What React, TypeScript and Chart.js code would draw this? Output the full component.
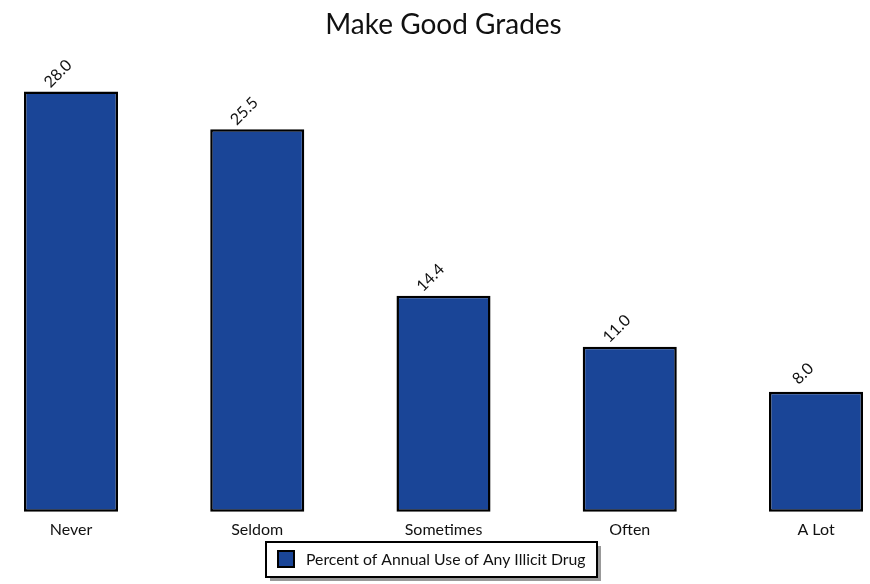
import React, { useEffect, useRef } from "react";
import { Chart, registerables } from "chart.js";

Chart.register(...registerables);

const categories = ["Never", "Seldom", "Sometimes", "Often", "A Lot"];
const values = [28.0, 25.5, 14.4, 11.0, 8.0];
const seriesLabel = "Percent of Annual Use of Any Illicit Drug";
const titleText = "Make Good Grades";

const FONT = "Lato, 'Noto Sans', sans-serif";
const BAR_COLOR = "#1a4597";

const valueLabelPlugin = {
  id: "valueLabels",
  afterDatasetsDraw(chart: any) {
    const ctx = chart.ctx;
    const meta = chart.getDatasetMeta(0);
    ctx.save();
    ctx.fillStyle = "#111";
    ctx.font = `16px ${FONT}`;
    ctx.textAlign = "center";
    ctx.textBaseline = "middle";
    meta.data.forEach((bar: any, i: number) => {
      const v = chart.data.datasets[0].data[i] as number;
      ctx.save();
      ctx.translate(bar.x - 13, bar.y - 18);
      ctx.rotate(-Math.PI / 4);
      ctx.fillText(v.toFixed(1), 0, 0);
      ctx.restore();
    });
    ctx.restore();
  },
};

const legendBoxPlugin = {
  id: "legendBox",
  afterDraw(chart: any) {
    const ctx = chart.ctx;
    const ds = chart.data.datasets[0];
    const x = 266, y = 542, w = 331, h = 35;
    ctx.save();
    ctx.fillStyle = "#999";
    ctx.fillRect(x + 4, y + 4, w, h);
    ctx.fillStyle = "#fff";
    ctx.fillRect(x, y, w, h);
    ctx.strokeStyle = "#000";
    ctx.lineWidth = 2;
    ctx.strokeRect(x, y, w, h);
    ctx.fillStyle = ds.backgroundColor;
    ctx.fillRect(x + 12, y + 9, 16, 16);
    ctx.lineWidth = 2;
    ctx.strokeRect(x + 12, y + 9, 16, 16);
    ctx.fillStyle = "#111";
    ctx.font = `15.8px ${FONT}`;
    ctx.textAlign = "left";
    ctx.textBaseline = "middle";
    ctx.fillText(ds.label, x + 40, y + 18);
    ctx.restore();
  },
};

export default function App() {
  const ref = useRef<HTMLCanvasElement>(null);
  useEffect(() => {
    const chart = new Chart(ref.current!, {
      type: "bar",
      data: {
        labels: categories,
        datasets: [
          {
            label: seriesLabel,
            data: values,
            backgroundColor: BAR_COLOR,
            borderColor: "#000",
            borderWidth: 2.5,
            borderSkipped: false,
            categoryPercentage: 1,
            barPercentage: 0.505,
            clip: false as any,
          },
        ],
      },
      options: {
        animation: false,
        responsive: false,
        maintainAspectRatio: false,
        layout: { padding: { left: 71, right: 54, top: 0, bottom: 37 } },
        plugins: {
          legend: { display: false },
          tooltip: { enabled: false },
          title: {
            display: true,
            text: titleText,
            font: { size: 28, family: FONT, weight: "normal" },
            color: "#111",
            padding: { top: 8, bottom: 20 },
          },
        },
        scales: {
          x: {
            offset: false,
            grid: { display: false, drawTicks: false },
            border: { display: false },
            ticks: {
              font: { size: 16, family: FONT },
              color: "#111",
              padding: 8,
              maxRotation: 0,
              autoSkip: false,
            },
          },
          y: {
            display: false,
            min: 0,
            max: 30,
          },
        },
      },
      plugins: [valueLabelPlugin, legendBoxPlugin],
    });
    return () => chart.destroy();
  }, []);
  return (
    <div style={{ position: "absolute", left: 0, top: 0, width: 870, height: 584, background: "#fff" }}>
      <canvas ref={ref} width={870} height={584} />
    </div>
  );
}
